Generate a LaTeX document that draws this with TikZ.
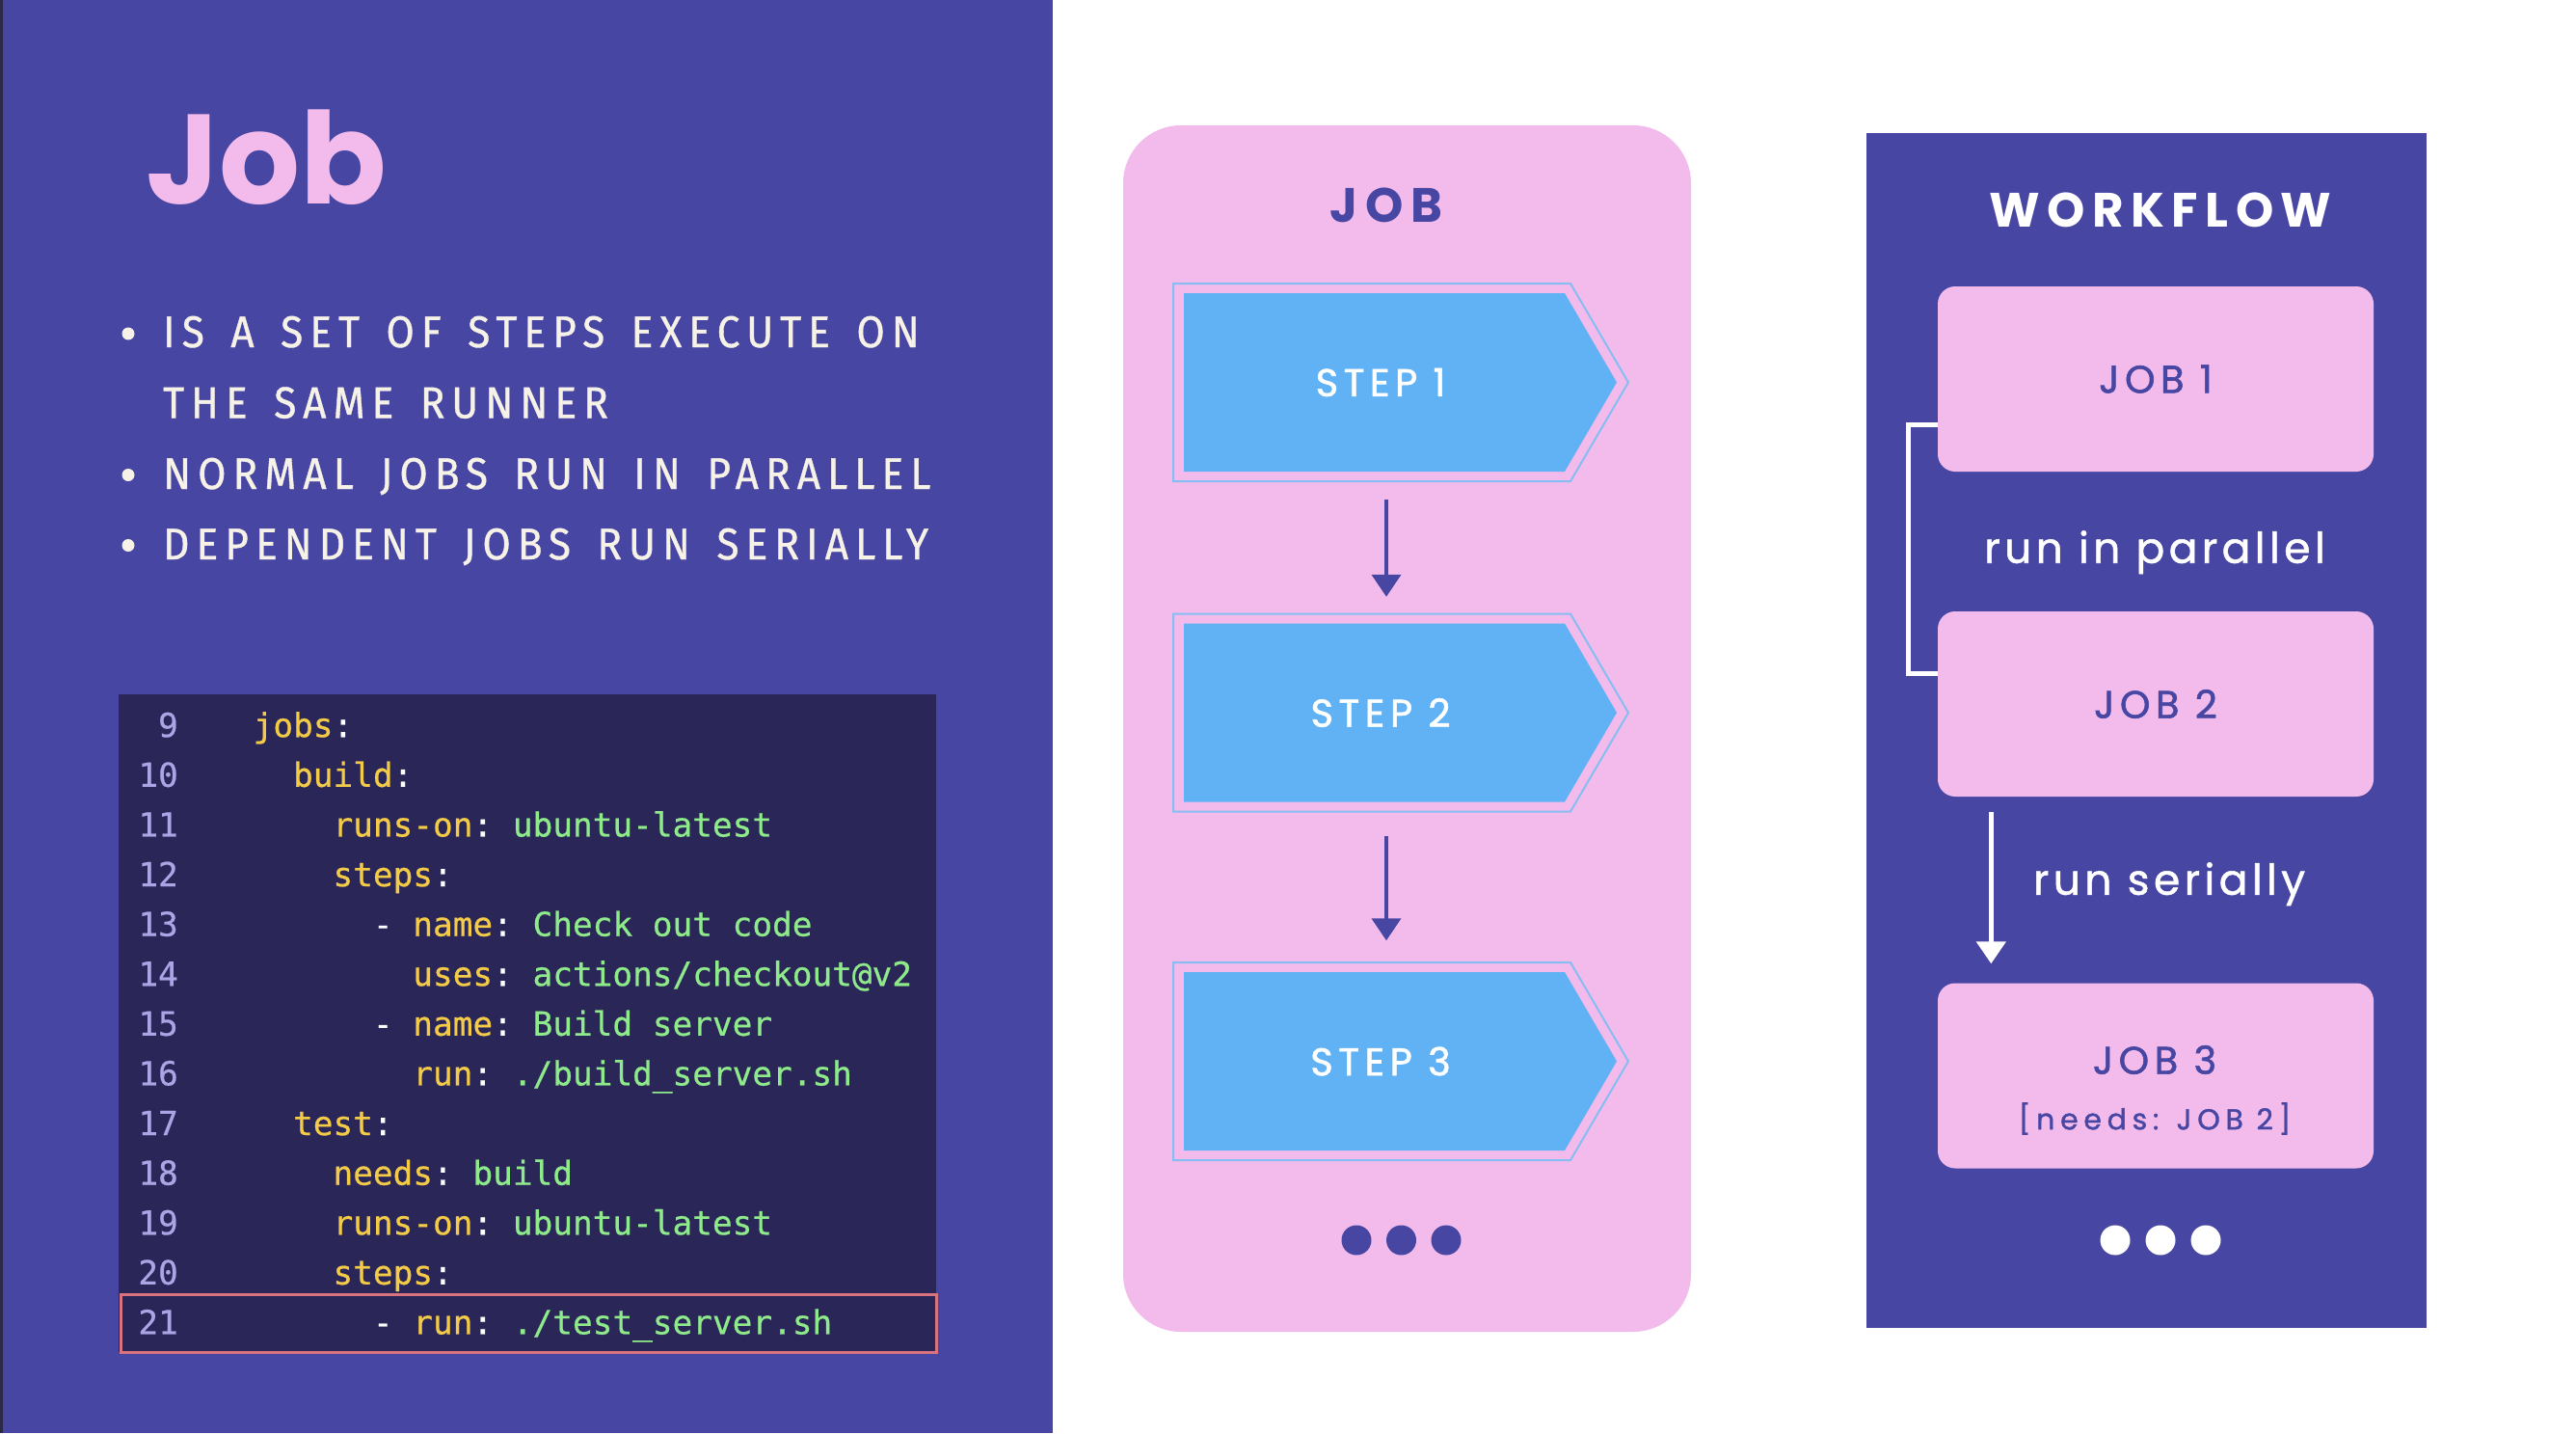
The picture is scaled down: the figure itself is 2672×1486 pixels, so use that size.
\documentclass[tikz,border=0pt]{standalone}
\usepackage{fontspec}
\usetikzlibrary{calc,arrows.meta}
\setmainfont{Poppins}
\newfontfamily\titlefont{Poppins}
\newfontfamily\headfont{Poppins}[LetterSpace=15]
\newfontfamily\boxfont{Poppins}[LetterSpace=14,FakeBold=1.5]
\newfontfamily\needsfont{Poppins}[LetterSpace=19,FakeBold=1.2]
\newfontfamily\lblfont{Poppins}[LetterSpace=10,FakeBold=1.2]
\newfontfamily\bulletfont{Fira Sans}[LetterSpace=15.5,FakeStretch=0.92,FakeBold=0.8,WordSpace=1.5]
\newfontfamily\codefont{DejaVu Sans Mono}[FakeBold=0.6]
\definecolor{purp}{HTML}{4846A3}
\definecolor{pinkc}{HTML}{F2BBEB}
\definecolor{codebg}{HTML}{2A2657}
\definecolor{stepblue}{HTML}{61B2F5}
\definecolor{stepline}{HTML}{86BDF2}
\definecolor{cream}{HTML}{F6F2E8}
\definecolor{kwc}{HTML}{F3CB48}
\definecolor{valc}{HTML}{8EEA8A}
\definecolor{lnumc}{HTML}{ABA5E6}
\definecolor{hlc}{HTML}{D8737F}
\definecolor{edgedark}{HTML}{2A2A48}
\newcommand\cK[1]{\textcolor{kwc}{#1}}
\newcommand\cV[1]{\textcolor{valc}{#1}}
\tikzset{
  bullettext/.style={anchor=base west, inner sep=0, text=cream, font=\bulletfont\fontsize{46}{54}\selectfont},
  bulletdot/.style={circle, fill=cream, minimum size=13, inner sep=0},
  lnum/.style={anchor=mid east, inner sep=0, text=lnumc, font=\codefont\fontsize{34.4}{40}\selectfont},
  codeline/.style={anchor=mid west, inner sep=0, text=white, font=\codefont\frenchspacing\fontsize{34.4}{40}\selectfont},
  steptext/.style={inner sep=0, text=white, font=\boxfont\fontsize{40}{48}\selectfont},
  headtext/.style={inner sep=0, font=\headfont\bfseries\fontsize{50}{60}\selectfont},
  jobbox/.style={fill=pinkc, rounded corners=18, minimum width=452, minimum height=192, inner sep=0, text=purp, font=\boxfont\fontsize{40}{48}\selectfont},
  jobtext/.style={inner sep=0, text=purp, font=\boxfont\fontsize{40}{48}\selectfont},
  needstext/.style={inner sep=0, text=purp, font=\needsfont\fontsize{30}{36}\selectfont},
  lbl/.style={anchor=mid, inner sep=0, text=white, font=\lblfont\fontsize{44}{52}\selectfont},
  parr/.style={draw=purp, line width=4, -{Triangle[width=30pt,length=23pt]}},
  warr/.style={draw=white, line width=5, -{Triangle[width=30pt,length=23pt]}},
  brk/.style={draw=white, line width=5},
  dotnode/.style={circle, minimum size=31, inner sep=0},
}
\begin{document}
\begin{tikzpicture}[x=1pt,y=-1pt]
\useasboundingbox (0,0) rectangle (2672,1486);
\fill[white] (0,0) rectangle (2672,1486);
\fill[purp] (0,0) rectangle (1092,1486);
\fill[edgedark] (0,0) rectangle (3,1486);

% title
\node[anchor=base west, inner sep=0, text=pinkc, font=\titlefont\bfseries\fontsize{132}{144}\selectfont] (title) at (151,211) {Job};

% bullets
\node[bulletdot] (b1) at (133,346) {};
\node[bullettext] (l1) at (169,360) {IS A SET OF STEPS EXECUTE ON};
\node[bullettext] (l1b) at (169,433.5) {THE SAME RUNNER};
\node[bulletdot] (b2) at (133,492.5) {};
\node[bullettext] (l2) at (169,507) {NORMAL JOBS RUN IN PARALLEL};
\node[bulletdot] (b3) at (133,565.5) {};
\node[bullettext] (l3) at (169,580) {DEPENDENT JOBS RUN SERIALLY};

% code block
\node[fill=codebg, minimum width=848, minimum height=682, inner sep=0, anchor=north west] (code) at (123,720) {};
\node[draw=hlc, line width=2.5, minimum width=846, minimum height=60, inner sep=0, anchor=north west] (hl) at (124,1341) {};
\foreach \n [count=\i from 0] in {9,...,21} {
  \node[lnum] (ln\n) at (185,761.5+51.6*\i) {\n};
}
\node[codeline] (c9)  at (262.5,761.5) {\cK{jobs}:};
\node[codeline] (c10) at (303.9,813.1) {\cK{build}:};
\node[codeline] (c11) at (345.3,864.7) {\cK{runs-on}: \cV{ubuntu-latest}};
\node[codeline] (c12) at (345.3,916.3) {\cK{steps}:};
\node[codeline] (c13) at (386.7,967.9) {- \cK{name}: \cV{Check out code}};
\node[codeline] (c14) at (428.1,1019.5) {\cK{uses}: \cV{actions/checkout@v2}};
\node[codeline] (c15) at (386.7,1071.1) {- \cK{name}: \cV{Build server}};
\node[codeline] (c16) at (428.1,1122.7) {\cK{run}: \cV{./build\_server.sh}};
\node[codeline] (c17) at (303.9,1174.3) {\cK{test}:};
\node[codeline] (c18) at (345.3,1225.9) {\cK{needs}: \cV{build}};
\node[codeline] (c19) at (345.3,1277.5) {\cK{runs-on}: \cV{ubuntu-latest}};
\node[codeline] (c20) at (345.3,1329.1) {\cK{steps}:};
\node[codeline] (c21) at (386.7,1380.7) {- \cK{run}: \cV{./test\_server.sh}};

% JOB panel
\node[fill=pinkc, rounded corners=60, minimum width=589, minimum height=1251, inner sep=0] (jobpanel) at (1459.5,755.5) {};
\node[headtext, text=purp] (jobhead) at (1438,213) {JOB};
\foreach \t/\n in {304/1,646.5/2,1008/3} {
  \draw[draw=stepline, line width=2] (1217,\t-10) -- (1629,\t-10) -- (1689,\t+92.5) -- (1629,\t+195) -- (1217,\t+195) -- cycle;
  \fill[stepblue] (1228,\t) -- (1623,\t) -- (1677,\t+92.5) -- (1623,\t+185) -- (1228,\t+185) -- cycle;
  \node[minimum width=472, minimum height=206, inner sep=0] (sb\n) at (1453,\t+92.5) {};
  \node[steptext] (step\n) at (1432,\t+92.5) {STEP \n};
}
\draw[parr] ($(sb1.south)+(-15,18)$) -- ($(sb2.north)+(-15,-17)$);
\draw[parr] ($(sb2.south)+(-15,25)$) -- ($(sb3.north)+(-15,-22)$);
\node[dotnode, fill=purp] (jd1) at (1407,1286) {};
\node[dotnode, fill=purp] (jd2) at (1453.5,1286) {};
\node[dotnode, fill=purp] (jd3) at (1500,1286) {};

% WORKFLOW panel
\node[fill=purp, minimum width=581, minimum height=1239, inner sep=0] (wf) at (2226.5,757.5) {};
\node[headtext, text=white] (wfhead) at (2241,218) {WORKFLOW};
\node[jobbox] (j1) at (2236,393) {JOB 1};
\node[jobbox] (j2) at (2236,730) {JOB 2};
\node[jobbox] (j3) at (2236,1115.5) {};
\node[jobtext] (j3a) at (2235,1099) {JOB 3};
\node[needstext] (j3b) at (2235,1160) {[needs: JOB 2]};
\node[lbl] (par) at (2235,581) {run in parallel};
\node[lbl] (ser) at (2250,925) {run serially};
\draw[brk] ($(j1.west)+(0,47)$) -- ++(-30,0) |- ($(j2.west)+(0,-32)$);
\draw[warr] ($(j2.south west)+(55.5,16)$) -- ($(j3.north west)+(55.5,-20)$);
\node[dotnode, fill=white] (wd1) at (2194,1286) {};
\node[dotnode, fill=white] (wd2) at (2241,1286) {};
\node[dotnode, fill=white] (wd3) at (2288,1286) {};
\end{tikzpicture}
\end{document}
